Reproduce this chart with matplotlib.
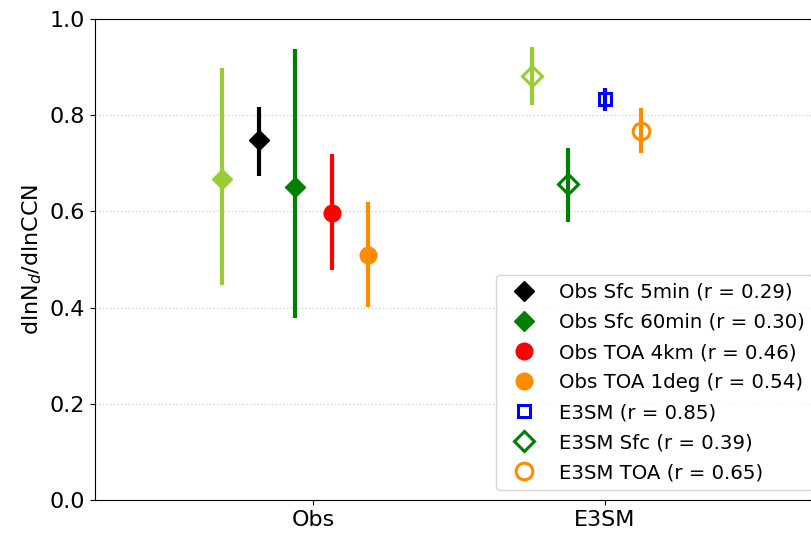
import numpy as np
import matplotlib
matplotlib.use('Agg')
import matplotlib.pyplot as plt

# group positions / tick labels
groups = ['Obs', 'E3SM']

# Obs points (value, lower end, upper end)
obs_labels = [None, 'Obs Sfc 5min (r = 0.29)', 'Obs Sfc 60min (r = 0.30)',
              'Obs TOA 4km (r = 0.46)', 'Obs TOA 1deg (r = 0.54)']
obs_vals = [0.668, 0.748, 0.651, 0.596, 0.509]
obs_lo = [0.447, 0.674, 0.378, 0.478, 0.402]
obs_hi = [0.898, 0.818, 0.937, 0.719, 0.620]
obs_colors = ['yellowgreen', 'black', 'green', 'red', 'darkorange']
obs_markers = ['D', 'D', 'D', 'o', 'o']

# E3SM points
e3sm_labels = [None, 'E3SM Sfc (r = 0.39)', 'E3SM (r = 0.85)', 'E3SM TOA (r = 0.65)']
e3sm_vals = [0.882, 0.657, 0.834, 0.768]
e3sm_lo = [0.821, 0.577, 0.809, 0.722]
e3sm_hi = [0.942, 0.732, 0.856, 0.814]
e3sm_colors = ['yellowgreen', 'green', 'blue', 'darkorange']
e3sm_markers = ['D', 'D', 's', 'o']

legend_order = ['Obs Sfc 5min (r = 0.29)', 'Obs Sfc 60min (r = 0.30)',
                'Obs TOA 4km (r = 0.46)', 'Obs TOA 1deg (r = 0.54)',
                'E3SM (r = 0.85)', 'E3SM Sfc (r = 0.39)', 'E3SM TOA (r = 0.65)']

MSIZE = {'D': 10, 'o': 12, 's': 8}

fig = plt.figure(figsize=(8.12, 5.33), dpi=100)
ax = fig.add_axes([0.117, 0.062, 0.8966, 0.9024])

handles = {}
dx = 0.125

def draw(x0, vals, lo, hi, colors, markers, labels, filled):
    for i, (v, l, h, c, m, lab) in enumerate(zip(vals, lo, hi, colors, markers, labels)):
        x = x0 + i * dx
        ax.errorbar(x, v, yerr=[[v - l], [h - v]], fmt='none', ecolor=c, elinewidth=3, zorder=2)
        if filled:
            ln, = ax.plot(x, v, marker=m, color=c, markersize=MSIZE[m], linestyle='none', zorder=3)
        else:
            ln, = ax.plot(x, v, marker=m, color=c, markerfacecolor='none', markeredgewidth=2.2,
                          markersize=MSIZE[m], linestyle='none', zorder=3)
        if lab is not None:
            handles[lab] = ln

draw(-0.3125, obs_vals, obs_lo, obs_hi, obs_colors, obs_markers, obs_labels, True)
draw(1 - 0.25, e3sm_vals, e3sm_lo, e3sm_hi, e3sm_colors, e3sm_markers, e3sm_labels, False)

ax.set_xlim(-0.75, 1.75)
ax.set_ylim(0, 1)
ax.set_xticks([0, 1])
ax.set_xticklabels(groups)
ax.tick_params(labelsize=16)
ax.set_ylabel('dlnN$_d$/dlnCCN', fontsize=16)
ax.yaxis.grid(True, linestyle=':', color='lightgray', linewidth=1)
ax.set_axisbelow(True)

ax.legend([handles[k] for k in legend_order], legend_order, loc='lower right',
          fontsize=14.2, labelspacing=0.56)

fig.savefig('out.png', dpi=100)
